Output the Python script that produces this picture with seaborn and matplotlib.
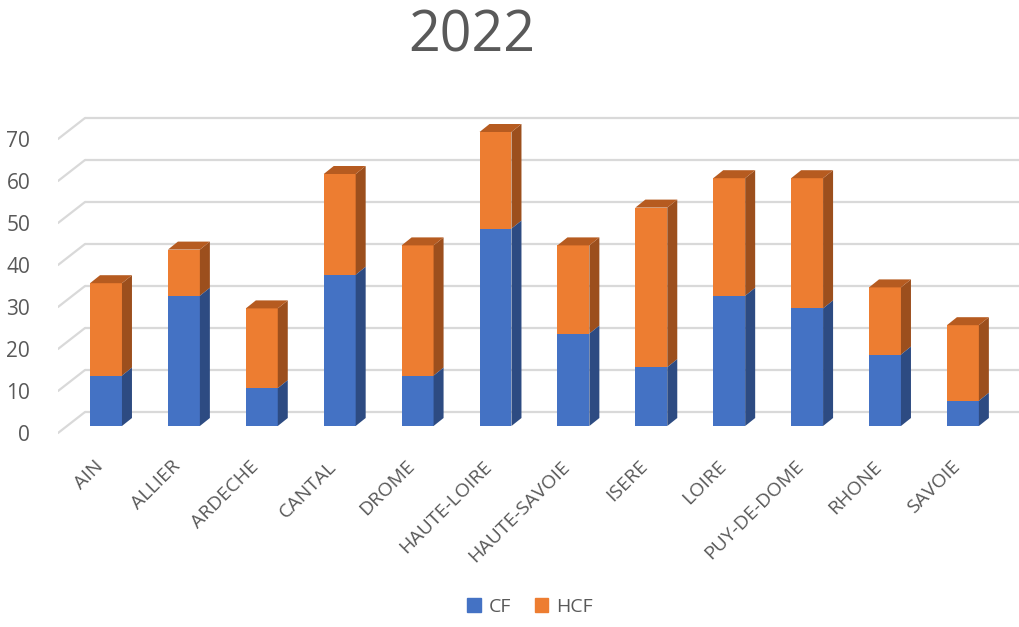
import numpy as np
import pandas as pd
import seaborn as sns
import matplotlib
matplotlib.use("Agg")
import matplotlib.pyplot as plt
from matplotlib.patches import Polygon
from matplotlib.transforms import ScaledTranslation

departements = ["AIN", "ALLIER", "ARDECHE", "CANTAL", "DROME", "HAUTE-LOIRE",
                "HAUTE-SAVOIE", "ISERE", "LOIRE", "PUY-DE-DOME", "RHONE", "SAVOIE"]
cf = [12, 31, 9, 36, 12, 47, 22, 14, 31, 28, 17, 6]
hcf = [22, 11, 19, 24, 31, 23, 21, 38, 28, 31, 16, 18]
y_ticks = [0, 10, 20, 30, 40, 50, 60, 70]
title = "2022"

BLUE, BLUE_SIDE = "#4472C4", "#2D4B82"
ORANGE, ORANGE_SIDE, ORANGE_TOP = "#ED7D31", "#9C4F1D", "#B65B20"
GRID = "#D9D9D9"
TEXT = "#595959"

sns.set_theme(style="white")
plt.rcParams["font.family"] = ["Open Sans", "DejaVu Sans"]

df = pd.DataFrame({"dept": departements, "CF": cf, "HCF": hcf})
df["total"] = df["CF"] + df["HCF"]

W, H = 1020, 627
fig = plt.figure(figsize=(W / 100, H / 100), dpi=100)
ax = fig.add_axes([58 / W, 1 - 440 / H, (1020 - 58) / W, (440 - 110) / H])

# stacked bars: full total in orange, CF overlaid in blue
sns.barplot(data=df, x="dept", y="total", color=ORANGE, width=0.41,
            saturation=1, linewidth=0, ax=ax, zorder=3)
sns.barplot(data=df, x="dept", y="CF", color=BLUE, width=0.41,
            saturation=1, linewidth=0, ax=ax, zorder=4)

step = 77.9  # pixels between categories
ax.set_xlim((58 - 106) / step, (1020 - 106) / step)
ax.set_ylim(-(440 - 426) / 4.2, (426 - 110) / 4.2)

# pixel -> data conversion factors
fig.canvas.draw()
(x0p, y0p), (x1p, y1p) = ax.transData.transform([(0, 0), (1, 1)])
px_x = 1 / (x1p - x0p)
px_y = 1 / (y1p - y0p)

# depth of the bars
dx, dy = 10 * px_x, 8 * px_y
n = len(departements)
bars = ax.patches
tot_bars, cf_bars = bars[:n], bars[n:2 * n]
for tb, cb in zip(tot_bars, cf_bars):
    xl = tb.get_x()
    xr = xl + tb.get_width()
    top = tb.get_height()
    mid = cb.get_height()
    ax.add_patch(Polygon([(xr, mid), (xr + dx, mid + dy), (xr + dx, top + dy), (xr, top)],
                         closed=True, facecolor=ORANGE_SIDE, edgecolor="none", zorder=3))
    ax.add_patch(Polygon([(xr, 0), (xr + dx, dy), (xr + dx, mid + dy), (xr, mid)],
                         closed=True, facecolor=BLUE_SIDE, edgecolor="none", zorder=4))
    ax.add_patch(Polygon([(xl, top), (xr, top), (xr + dx, top + dy), (xl + dx, top + dy)],
                         closed=True, facecolor=ORANGE_TOP, edgecolor="none", zorder=3))

# back wall gridlines and side wall diagonals
back_x = (85 - 106) / step
front_x = (58 - 106) / step
back_off = 14 * px_y
front_off = -7 * px_y
for v in y_ticks:
    ax.plot([back_x, ax.get_xlim()[1]], [v + back_off, v + back_off],
            color=GRID, lw=1.6, zorder=1, solid_capstyle="butt")
    ax.plot([front_x, back_x], [v + front_off, v + back_off],
            color=GRID, lw=1.6, zorder=1)

for s in ax.spines.values():
    s.set_visible(False)
ax.grid(False)
ax.set_xlabel("")
ax.set_ylabel("")

ax.set_yticks(y_ticks)
ax.set_yticklabels([str(v) for v in y_ticks], fontsize=15, color=TEXT)
ax.tick_params(axis="y", length=0, pad=20)
for lab in ax.get_yticklabels():
    lab.set_transform(lab.get_transform() + ScaledTranslation(0, -7 / 100, fig.dpi_scale_trans))

ax.set_xticks(range(n))
ax.set_xticklabels(departements, fontsize=14, color=TEXT, rotation=45,
                   ha="right", va="center", rotation_mode="anchor")
ax.tick_params(axis="x", length=0, pad=17)
for lab in ax.get_xticklabels():
    lab.set_transform(lab.get_transform() + ScaledTranslation(-6 / 100, 0, fig.dpi_scale_trans))

fig.text(472 / W, 1 - 37 / H, title, ha="center", va="center", fontsize=40, color=TEXT)

handles = [plt.Rectangle((0, 0), 1, 1, color=BLUE), plt.Rectangle((0, 0), 1, 1, color=ORANGE)]
leg = fig.legend(handles, ["CF", "HCF"], loc="center", bbox_to_anchor=(530 / W, 1 - 607 / H),
                 ncol=2, frameon=False, fontsize=14, handlelength=0.7, handleheight=0.7,
                 handletextpad=0.4, columnspacing=1.2)
for t in leg.get_texts():
    t.set_color(TEXT)

fig.savefig("out.png", dpi=100)
